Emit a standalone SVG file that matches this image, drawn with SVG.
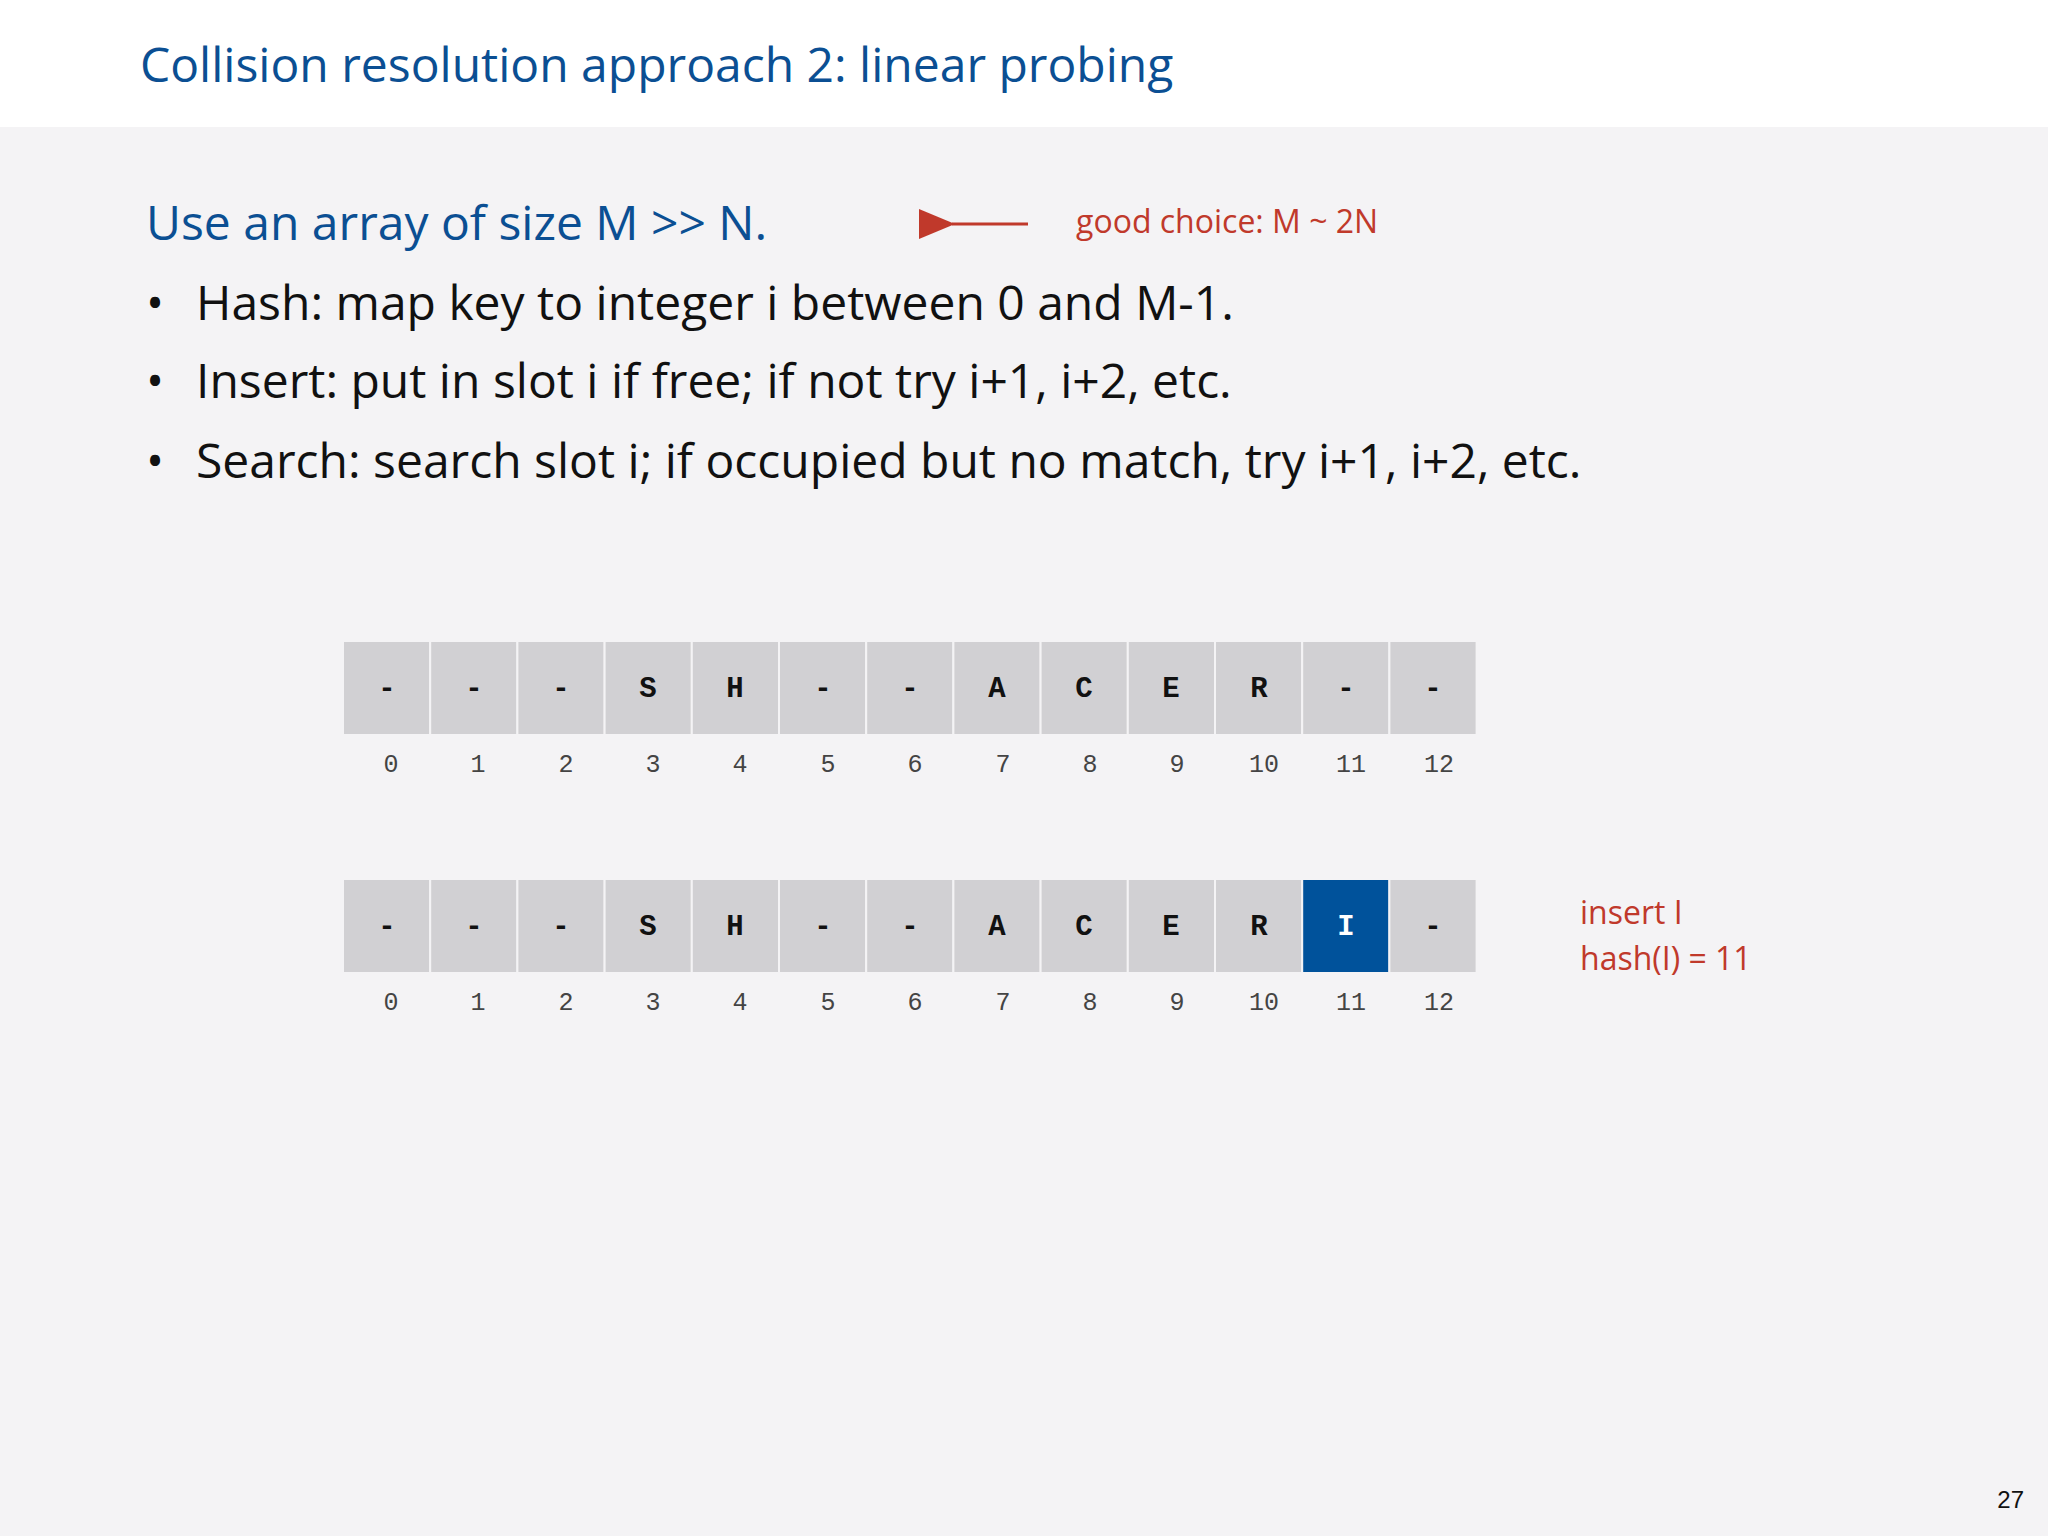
<svg xmlns="http://www.w3.org/2000/svg" width="2048" height="1536" viewBox="0 0 2048 1536">
<defs>
<style>
.t{font-family:"Open Sans","DejaVu Sans",sans-serif}
.blue{fill:#0b4f93}
.red{fill:#c0392b}
.cell{fill:#d1d0d3;stroke:#f4f3f5;stroke-width:2}
.ch{font-family:"Liberation Mono","DejaVu Sans Mono",monospace;font-weight:bold;font-size:29px;text-anchor:middle;fill:#111}
.ix{font-family:"Liberation Mono","DejaVu Sans Mono",monospace;font-size:25px;text-anchor:middle;fill:#444}
</style>
<marker id="ah" markerWidth="12" markerHeight="10" refX="1" refY="5" orient="auto"><path d="M12,0 L0,5 L12,10 z" fill="#c0392b"/></marker>
</defs>
<rect width="2048" height="1536" fill="#f4f3f5"/>
<rect width="2048" height="127" fill="#ffffff"/>
<text class="t blue" x="140" y="82" font-size="48">Collision resolution approach 2:  linear probing</text>
<text class="t blue" x="146" y="240" font-size="48">Use an array of size M &gt;&gt; N.</text>
<g id="conn"><line x1="1028" y1="224" x2="952" y2="224" stroke="#c0392b" stroke-width="3" marker-end="url(#ah)"/></g>
<text class="t red" x="1076" y="233" font-size="32">good choice: M ~ 2N</text>
<g class="t" font-size="48" fill="#111">
<text x="146" y="320">•</text><text x="196" y="320">Hash:  map key to integer i between 0 and M-1.</text>
<text x="146" y="398">•</text><text x="196" y="398">Insert:  put in slot i if free; if not try i+1, i+2, etc.</text>
<text x="146" y="478">•</text><text x="196" y="478">Search:  search slot i; if occupied but no match, try i+1, i+2, etc.</text>
</g>
<g id="array1">
<rect class="cell" x="343" y="641" width="87.2" height="94"/><rect class="cell" x="430.2" y="641" width="87.2" height="94"/><rect class="cell" x="517.4" y="641" width="87.2" height="94"/><rect class="cell" x="604.6" y="641" width="87.2" height="94"/><rect class="cell" x="691.8" y="641" width="87.2" height="94"/><rect class="cell" x="779" y="641" width="87.2" height="94"/><rect class="cell" x="866.2" y="641" width="87.2" height="94"/><rect class="cell" x="953.4" y="641" width="87.2" height="94"/><rect class="cell" x="1040.6" y="641" width="87.2" height="94"/><rect class="cell" x="1127.8" y="641" width="87.2" height="94"/><rect class="cell" x="1215" y="641" width="87.2" height="94"/><rect class="cell" x="1302.2" y="641" width="87.2" height="94"/><rect class="cell" x="1389.4" y="641" width="87.2" height="94"/>
<text class="ch" y="697"><tspan x="387">-</tspan><tspan x="474">-</tspan><tspan x="561">-</tspan><tspan x="648">S</tspan><tspan x="735">H</tspan><tspan x="823">-</tspan><tspan x="910">-</tspan><tspan x="997">A</tspan><tspan x="1084">C</tspan><tspan x="1171">E</tspan><tspan x="1259">R</tspan><tspan x="1346">-</tspan><tspan x="1433">-</tspan></text>
<text class="ix" y="772"><tspan x="391">0</tspan><tspan x="478">1</tspan><tspan x="566">2</tspan><tspan x="653">3</tspan><tspan x="740">4</tspan><tspan x="828">5</tspan><tspan x="915">6</tspan><tspan x="1003">7</tspan><tspan x="1090">8</tspan><tspan x="1177">9</tspan><tspan x="1264">10</tspan><tspan x="1351">11</tspan><tspan x="1439">12</tspan></text>
</g>
<g id="array2">
<rect class="cell" x="343" y="879" width="87.2" height="94"/><rect class="cell" x="430.2" y="879" width="87.2" height="94"/><rect class="cell" x="517.4" y="879" width="87.2" height="94"/><rect class="cell" x="604.6" y="879" width="87.2" height="94"/><rect class="cell" x="691.8" y="879" width="87.2" height="94"/><rect class="cell" x="779" y="879" width="87.2" height="94"/><rect class="cell" x="866.2" y="879" width="87.2" height="94"/><rect class="cell" x="953.4" y="879" width="87.2" height="94"/><rect class="cell" x="1040.6" y="879" width="87.2" height="94"/><rect class="cell" x="1127.8" y="879" width="87.2" height="94"/><rect class="cell" x="1215" y="879" width="87.2" height="94"/><rect class="cell" x="1302.2" y="879" width="87.2" height="94" style="fill:#00529b"/><rect class="cell" x="1389.4" y="879" width="87.2" height="94"/>
<text class="ch" y="935"><tspan x="387">-</tspan><tspan x="474">-</tspan><tspan x="561">-</tspan><tspan x="648">S</tspan><tspan x="735">H</tspan><tspan x="823">-</tspan><tspan x="910">-</tspan><tspan x="997">A</tspan><tspan x="1084">C</tspan><tspan x="1171">E</tspan><tspan x="1259">R</tspan><tspan x="1346" fill="#fff">I</tspan><tspan x="1433">-</tspan></text>
<text class="ix" y="1010"><tspan x="391">0</tspan><tspan x="478">1</tspan><tspan x="566">2</tspan><tspan x="653">3</tspan><tspan x="740">4</tspan><tspan x="828">5</tspan><tspan x="915">6</tspan><tspan x="1003">7</tspan><tspan x="1090">8</tspan><tspan x="1177">9</tspan><tspan x="1264">10</tspan><tspan x="1351">11</tspan><tspan x="1439">12</tspan></text>
</g>
<text class="t red" x="1580" y="924" font-size="32">insert I</text>
<text class="t red" x="1580" y="970" font-size="32">hash(I) = 11</text>
<text x="2024" y="1508" font-family="Liberation Sans,sans-serif" font-size="24" text-anchor="end" fill="#111">27</text>
</svg>
